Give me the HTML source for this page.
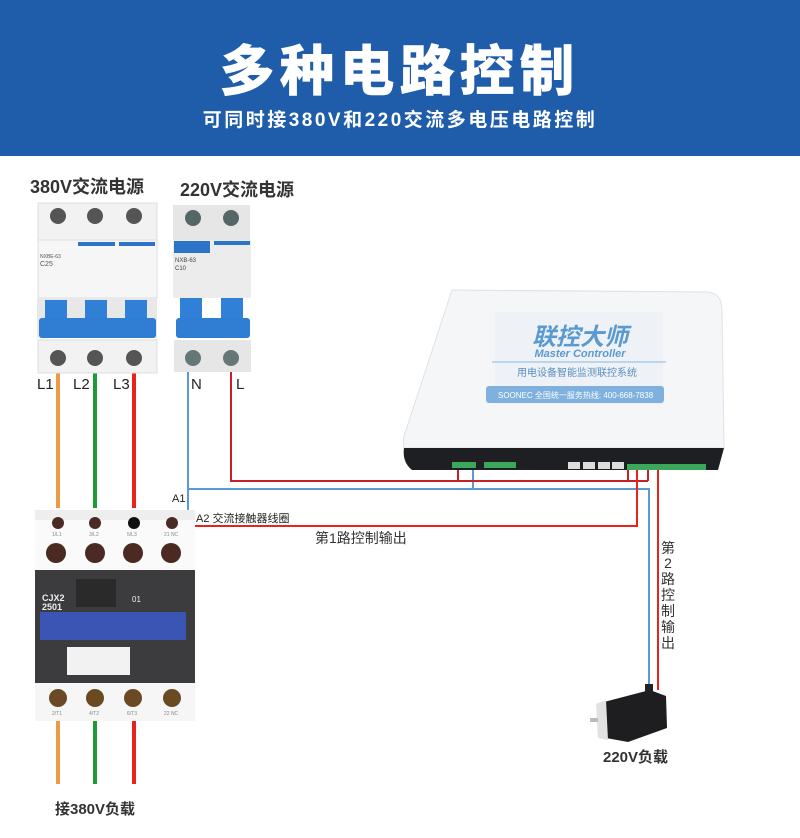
<!DOCTYPE html>
<html><head><meta charset="utf-8"><style>
html,body{margin:0;padding:0;background:#fff;}
svg{display:block;}
text{font-family:"Liberation Sans","Noto Sans CJK SC",sans-serif;}
</style></head><body>
<svg width="800" height="838" viewBox="0 0 800 838" xmlns="http://www.w3.org/2000/svg">
<rect x="0" y="0" width="800" height="156" fill="#1f5dab"/>
<text x="400" y="90" text-anchor="middle" font-size="54" font-weight="bold" fill="#fff" stroke="#fff" stroke-width="1.5" letter-spacing="6">多种电路控制</text>
<text x="400" y="126" text-anchor="middle" font-size="19" font-weight="bold" fill="#fff" letter-spacing="2.5">可同时接380V和220交流多电压电路控制</text>

<text x="30" y="193" font-size="18" font-weight="bold" fill="#333">380V交流电源</text>
<text x="180" y="196" font-size="18" font-weight="bold" fill="#333">220V交流电源</text>

<g fill="none" stroke-width="4">
<line x1="58" y1="372" x2="58" y2="508" stroke="#ec9a45"/>
<line x1="95" y1="372" x2="95" y2="508" stroke="#1c9a3a"/>
<line x1="134" y1="372" x2="134" y2="508" stroke="#e8231c"/>
<line x1="58" y1="720" x2="58" y2="784" stroke="#ec9a45"/>
<line x1="95" y1="720" x2="95" y2="784" stroke="#1c9a3a"/>
<line x1="134" y1="720" x2="134" y2="784" stroke="#e8231c"/>
</g>
<g fill="none" stroke-width="2">
<polyline points="188,372 188,510" stroke="#5a9ad8"/>
<polyline points="188,489 649,489 649,690" stroke="#5a9ad8"/>
<line x1="473" y1="467" x2="473" y2="489" stroke="#5a9ad8"/>
<polyline points="231,372 231,481 648,481" stroke="#c8202a"/>
<line x1="458" y1="467" x2="458" y2="481" stroke="#c8202a"/>
<line x1="628" y1="467" x2="628" y2="481" stroke="#c8202a"/>
<line x1="648" y1="467" x2="648" y2="481" stroke="#c8202a"/>
<polyline points="195,526 637,526 637,467" stroke="#e8231c"/>
<line x1="658" y1="467" x2="658" y2="690" stroke="#e8231c"/>
</g>

<g>
<rect x="38" y="203" width="119" height="42" fill="#f2f2f2" stroke="#ddd"/>
<circle cx="58" cy="216" r="8" fill="#555"/><circle cx="95" cy="216" r="8" fill="#555"/><circle cx="134" cy="216" r="8" fill="#555"/>
<rect x="38" y="240" width="119" height="58" fill="#f6f6f6" stroke="#ddd"/>
<rect x="78" y="242" width="37" height="4" fill="#2d74c9"/><rect x="119" y="242" width="36" height="4" fill="#2d74c9"/>
<text x="40" y="258" font-size="5" fill="#555">NXBE-63</text>
<text x="40" y="266" font-size="7" fill="#555">C25</text>
<rect x="37" y="298" width="120" height="40" fill="#e8e8e8"/>
<rect x="45" y="300" width="22" height="24" fill="#2f80d6"/><rect x="85" y="300" width="22" height="24" fill="#2f80d6"/><rect x="125" y="300" width="22" height="24" fill="#2f80d6"/>
<rect x="39" y="318" width="117" height="20" rx="3" fill="#2f7ed3"/>
<rect x="38" y="340" width="119" height="33" fill="#f2f2f2" stroke="#ddd"/>
<circle cx="58" cy="358" r="8" fill="#555"/><circle cx="95" cy="358" r="8" fill="#555"/><circle cx="134" cy="358" r="8" fill="#555"/>
</g>
<g>
<rect x="173" y="205" width="77" height="38" fill="#e6e6e6"/>
<circle cx="193" cy="218" r="8" fill="#566"/><circle cx="231" cy="218" r="8" fill="#566"/>
<rect x="173" y="240" width="78" height="58" fill="#ececec"/>
<rect x="174" y="241" width="36" height="12" fill="#2d74c9"/><rect x="214" y="241" width="36" height="4" fill="#2d74c9"/>
<text x="175" y="262" font-size="6" fill="#444">NXB-63</text><text x="175" y="270" font-size="6" fill="#444">C10</text>
<rect x="180" y="298" width="22" height="24" fill="#2f80d6"/><rect x="221" y="298" width="22" height="24" fill="#2f80d6"/>
<rect x="176" y="318" width="74" height="20" rx="3" fill="#2f7ed3"/>
<rect x="174" y="340" width="77" height="32" fill="#e6e6e6"/>
<circle cx="193" cy="358" r="8" fill="#677"/><circle cx="231" cy="358" r="8" fill="#677"/>
</g>
<g font-size="15" fill="#222">
<text x="37" y="389">L1</text><text x="73" y="389">L2</text><text x="113" y="389">L3</text>
<text x="191" y="389">N</text><text x="236" y="389">L</text>
</g>

<g>
<rect x="35" y="510" width="160" height="32" fill="#eee"/>
<rect x="35" y="520" width="160" height="60" fill="#fafafa"/>
<g fill="#4a2a22"><circle cx="58" cy="523" r="6"/><circle cx="95" cy="523" r="6"/><circle cx="134" cy="523" r="6" fill="#111"/><circle cx="172" cy="523" r="6"/>
<circle cx="56" cy="553" r="10"/><circle cx="95" cy="553" r="10"/><circle cx="133" cy="553" r="10"/><circle cx="171" cy="553" r="10"/></g>
<g font-size="5" fill="#888"><text x="52" y="536">1/L1</text><text x="89" y="536">3/L2</text><text x="127" y="536">5/L3</text><text x="164" y="536">21 NC</text></g>
<rect x="35" y="570" width="160" height="122" fill="#3c3c3e"/>
<rect x="76" y="579" width="40" height="28" fill="#2a2a2a"/>
<text x="42" y="601" font-size="9" font-weight="bold" fill="#eee">CJX2</text>
<text x="42" y="610" font-size="9" font-weight="bold" fill="#eee">2501</text>
<text x="132" y="602" font-size="8" fill="#eee">01</text>
<rect x="40" y="612" width="146" height="28" fill="#3b55b5"/>
<rect x="67" y="647" width="63" height="28" fill="#f2f2f2"/>
<rect x="35" y="683" width="160" height="38" fill="#f6f6f6"/>
<g fill="#6a4a22"><circle cx="58" cy="698" r="9"/><circle cx="95" cy="698" r="9"/><circle cx="133" cy="698" r="9"/><circle cx="172" cy="698" r="9"/></g>
<g font-size="5" fill="#888"><text x="52" y="715">2/T1</text><text x="89" y="715">4/T2</text><text x="127" y="715">6/T3</text><text x="164" y="715">22 NC</text></g>
</g>
<text x="172" y="502" font-size="11" fill="#222">A1</text>
<text x="196" y="522" font-size="11" fill="#222">A2 交流接触器线圈</text>
<text x="315" y="543" font-size="14" fill="#333">第1路控制输出</text>
<g font-size="14" fill="#333" text-anchor="middle">
<text x="668" y="553">第</text><text x="668" y="568">2</text><text x="668" y="584">路</text><text x="668" y="600">控</text><text x="668" y="616">制</text><text x="668" y="632">输</text><text x="668" y="648">出</text>
</g>

<g>
<path d="M452,290 L708,292 Q722,294 722,310 L724,448 L404,448 Q402,440 406,430 Z" fill="#f4f6f8" stroke="#dde2e8"/>
<rect x="495" y="312" width="168" height="92" fill="#eef2f6"/>
<text x="580" y="345" text-anchor="middle" font-size="24" font-weight="bold" font-style="italic" fill="#5a9ad0">联控大师</text>
<text x="580" y="357" text-anchor="middle" font-size="11" font-weight="bold" font-style="italic" fill="#5a9ad0">Master Controller</text>
<line x1="492" y1="362" x2="666" y2="362" stroke="#8ab8e0"/>
<text x="577" y="376" text-anchor="middle" font-size="10" fill="#5a8fc0">用电设备智能监测联控系统</text>
<rect x="486" y="386" width="178" height="17" rx="3" fill="#7fb1de"/>
<text x="498" y="398" font-size="8" fill="#fff">SOONEC   全国统一服务热线: 400-668-7838</text>
<path d="M404,448 L724,448 L718,470 L412,470 Q402,462 404,448 Z" fill="#1d1f22"/>
<g fill="#3aa75a"><rect x="452" y="462" width="24" height="6"/><rect x="484" y="462" width="32" height="6"/><rect x="627" y="464" width="22" height="6"/><rect x="646" y="464" width="20" height="6"/><rect x="664" y="464" width="22" height="6"/><rect x="684" y="464" width="22" height="6"/></g>
<g fill="#ddd"><rect x="568" y="462" width="12" height="7"/><rect x="583" y="462" width="12" height="7"/><rect x="598" y="462" width="12" height="7"/><rect x="612" y="462" width="12" height="7"/></g>
</g>

<g>
<polygon points="604,702 650,690 666,696 667,728 628,742 606,738" fill="#1e1e20"/>
<polygon points="596,704 606,700 608,740 598,738" fill="#e2e2e2"/>
<rect x="590" y="718" width="8" height="4" fill="#bbb"/>
<rect x="645" y="684" width="8" height="8" fill="#222"/>
</g>
<text x="603" y="762" font-size="15" font-weight="bold" fill="#333">220V负载</text>
<text x="55" y="814" font-size="15" font-weight="bold" fill="#333">接380V负载</text>
</svg>
</body></html>
